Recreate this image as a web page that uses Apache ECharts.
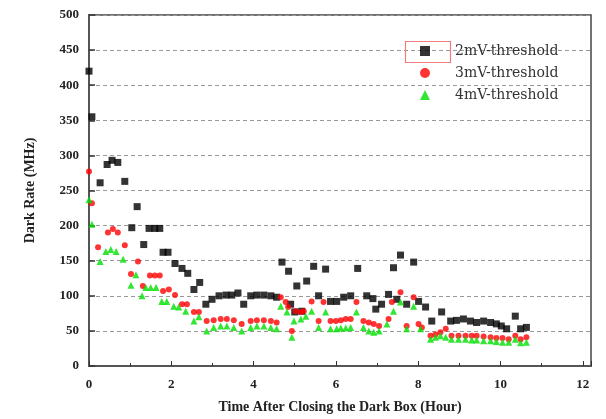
<!DOCTYPE html>
<html><head><meta charset="utf-8">
<script src="https://cdn.jsdelivr.net/npm/echarts@6/dist/echarts.min.js"></script>
<style>html,body{margin:0;padding:0;background:#fff}#c{width:606px;height:419px}</style>
</head><body><div id="c"></div>
<script>
const seriesNames = ['2mV-threshold', '3mV-threshold', '4mV-threshold'];
const xTicks = [0, 2, 4, 6, 8, 10, 12];
const yTicks = [0, 50, 100, 150, 200, 250, 300, 350, 400, 450, 500];

const mv2 = [[0.0,420],[0.07,355],[0.27,261],[0.44,287],[0.56,293],[0.70,290],[0.87,263],[1.04,197],[1.17,227],[1.33,173],[1.46,196],[1.60,196],[1.72,196],[1.80,162],[1.92,162],[2.09,146],[2.26,139],[2.40,132],[2.55,109],[2.69,119],[2.84,88],[2.99,95],[3.16,100],[3.33,101],[3.47,101],[3.62,104],[3.76,88],[3.93,100],[4.08,101],[4.25,101],[4.42,100],[4.56,98],[4.69,148],[4.85,135],[4.90,88],[5.00,77],[5.05,114],[5.17,78],[5.29,121],[5.46,142],[5.58,100],[5.75,138],[5.87,92],[6.02,92],[6.19,98],[6.36,100],[6.53,139],[6.75,100],[6.90,96],[6.97,81],[7.11,88],[7.28,102],[7.40,140],[7.48,95],[7.57,158],[7.72,88],[7.89,148],[8.01,92],[8.18,84],[8.33,64],[8.57,77],[8.79,64],[8.93,65],[9.10,67],[9.27,64],[9.42,62],[9.59,64],[9.76,62],[9.90,60],[10.02,57],[10.15,53],[10.36,71],[10.49,53],[10.63,55]];
const mv3 = [[0.0,277],[0.07,232],[0.22,169],[0.46,190],[0.58,195],[0.70,190],[0.87,172],[1.02,131],[1.19,149],[1.31,114],[1.48,129],[1.60,129],[1.72,129],[1.80,107],[1.94,109],[2.09,101],[2.26,88],[2.38,88],[2.55,77],[2.67,77],[2.86,64],[3.03,65],[3.20,67],[3.35,67],[3.52,65],[3.71,60],[3.93,64],[4.08,65],[4.25,65],[4.42,64],[4.56,62],[4.66,98],[4.78,91],[4.84,84],[4.93,50],[5.02,78],[5.15,77],[5.22,78],[5.41,92],[5.58,64],[5.70,91],[5.87,64],[6.00,64],[6.12,65],[6.24,67],[6.36,67],[6.50,91],[6.67,64],[6.80,62],[6.92,60],[7.05,57],[7.28,67],[7.36,91],[7.57,105],[7.72,57],[7.89,98],[8.01,60],[8.09,55],[8.30,43],[8.42,45],[8.54,48],[8.67,53],[8.81,43],[8.98,43],[9.15,43],[9.30,43],[9.42,43],[9.59,42],[9.76,41],[9.90,40],[10.05,40],[10.20,38],[10.36,43],[10.49,38],[10.63,41]];
const mv4 = [[0.0,237],[0.07,202],[0.27,149],[0.41,163],[0.53,166],[0.66,163],[0.83,152],[1.02,115],[1.14,130],[1.29,100],[1.38,112],[1.50,112],[1.63,112],[1.77,92],[1.89,92],[2.06,85],[2.18,84],[2.35,78],[2.55,64],[2.67,70],[2.86,50],[3.03,55],[3.20,57],[3.35,57],[3.52,55],[3.71,50],[3.93,55],[4.08,57],[4.25,57],[4.42,55],[4.56,53],[4.66,85],[4.81,77],[4.93,41],[4.98,64],[5.15,67],[5.27,71],[5.41,78],[5.58,55],[5.75,77],[5.87,53],[6.02,53],[6.12,54],[6.24,54],[6.36,55],[6.50,77],[6.67,55],[6.80,50],[6.92,48],[7.05,50],[7.24,60],[7.40,78],[7.57,91],[7.72,53],[7.89,85],[8.06,53],[8.30,38],[8.42,41],[8.54,43],[8.67,41],[8.81,38],[8.98,38],[9.15,38],[9.30,37],[9.42,37],[9.59,36],[9.76,36],[9.90,35],[10.05,34],[10.20,34],[10.36,38],[10.49,33],[10.63,34]];

const font = '"Liberation Serif", "DejaVu Serif", serif';
const chart = echarts.init(document.getElementById('c'), null, {renderer: 'canvas'});
chart.setOption({
  animation: false,
  backgroundColor: '#fff',
  grid: {left: 89, right: 15, top: 15, bottom: 53, show: true, borderColor: '#444', borderWidth: 1.5},
  legend: {
    orient: 'vertical', left: 415, top: 39, itemGap: 8, itemWidth: 10, itemHeight: 10,
    formatter: '{t|{name}}',
    textStyle: {fontFamily: '"DejaVu Serif", serif', fontSize: 14, color: '#333',
      rich: {t: {fontFamily: '"DejaVu Serif", serif', fontSize: 14, color: '#333', padding: [0, 0, 0, 20]}}},
    data: [
      {name: seriesNames[0], icon: 'rect'},
      {name: seriesNames[1], icon: 'circle'},
      {name: seriesNames[2], icon: 'triangle'}
    ]
  },
  graphic: [{type: 'rect', left: 403, top: 39, shape: {width: 45, height: 21}, style: {fill: 'none', stroke: '#f08080', lineWidth: 1.2}, z: 100}],
  xAxis: {
    type: 'value', min: 0, max: 12.2, interval: 2,
    name: 'Time After Closing the Dark Box (Hour)', nameLocation: 'middle', nameGap: 34,
    nameTextStyle: {fontFamily: font, fontWeight: 'bold', fontSize: 14, color: '#222'},
    axisLine: {onZero: false, lineStyle: {color: '#555', width: 2}},
    axisTick: {inside: true, length: 5, lineStyle: {color: '#333'}},
    minorTick: {show: true, splitNumber: 2, length: 3, lineStyle: {color: '#333'}},
    axisLabel: {fontFamily: font, fontWeight: 'bold', fontSize: 13, color: '#222', margin: 12,
      formatter: v => xTicks.indexOf(Math.round(v * 100) / 100) >= 0 ? String(v) : ''},
    splitLine: {show: false}
  },
  yAxis: {
    type: 'value', min: 0, max: 500, interval: 50,
    name: 'Dark Rate (MHz)', nameLocation: 'middle', nameGap: 52, nameRotate: 90,
    nameTextStyle: {fontFamily: font, fontWeight: 'bold', fontSize: 14, color: '#222'},
    axisLine: {lineStyle: {color: '#555', width: 2}},
    axisTick: {inside: true, length: 6, lineStyle: {color: '#333', width: 1.5}},
    axisLabel: {fontFamily: font, fontWeight: 'bold', fontSize: 13, color: '#222', margin: 10,
      formatter: v => yTicks.indexOf(v) >= 0 ? String(v) : ''},
    splitLine: {show: true, lineStyle: {color: '#999', type: [4, 3], width: 1}}
  },
  series: [
    {name: seriesNames[0], type: 'scatter', data: mv2, symbol: 'rect', symbolSize: 7, itemStyle: {color: '#000'}, z: 3},
    {name: seriesNames[1], type: 'scatter', data: mv3, symbol: 'circle', symbolSize: 6, itemStyle: {color: '#ff0000'}, z: 4},
    {name: seriesNames[2], type: 'scatter', data: mv4, symbol: 'triangle', symbolSize: 7, itemStyle: {color: '#00e000'}, z: 5}
  ]
});
</script></body></html>
